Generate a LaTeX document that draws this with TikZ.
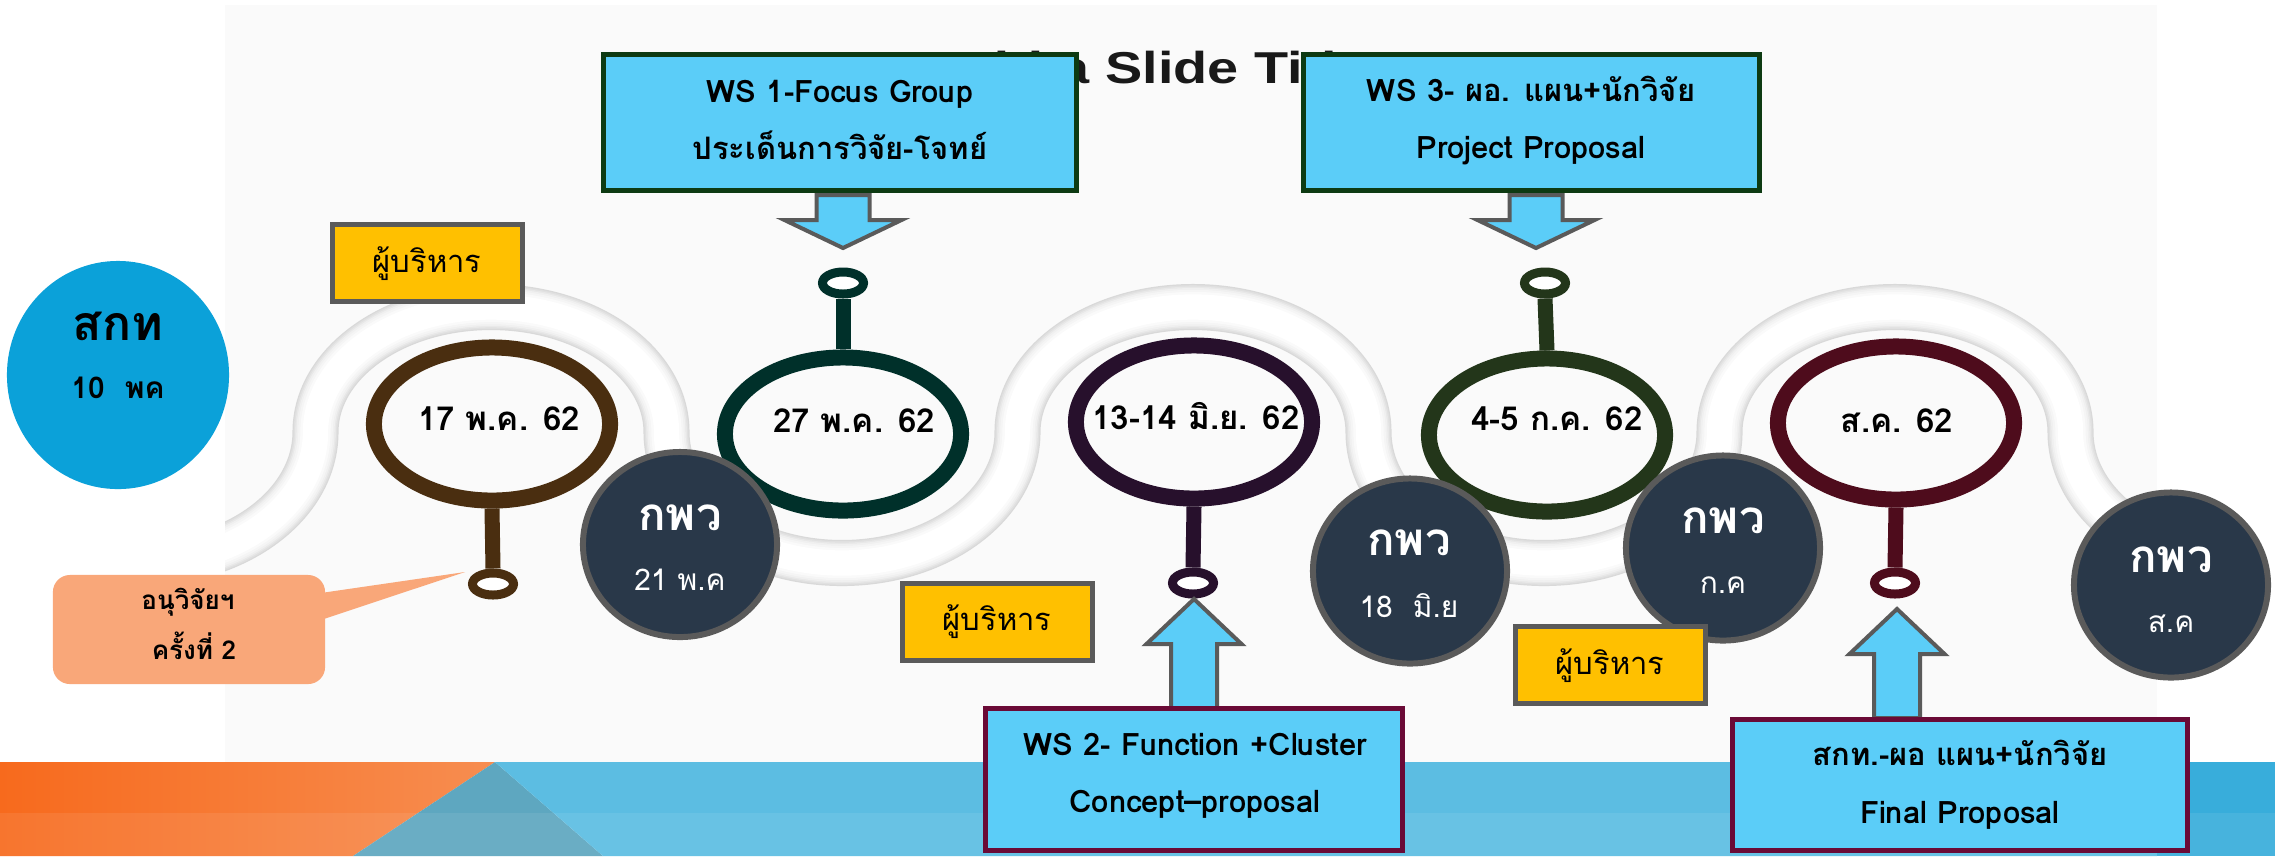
\documentclass[tikz,border=0pt]{standalone}
\usepackage{fontspec}
\usepackage{graphicx}
\setmainfont[Script=Thai]{Loma}
\newfontfamily\titlefont{Liberation Sans}
\usetikzlibrary{shapes.geometric}
\definecolor{boxblue}{HTML}{5BCDF8}
\definecolor{wsgreen}{HTML}{0D3A12}
\definecolor{wsmaroon}{HTML}{6A0A36}
\definecolor{yfill}{HTML}{FFC000}
\definecolor{gbord}{HTML}{5A5A5A}
\definecolor{efill}{HTML}{293849}
\definecolor{skyell}{HTML}{0BA1D9}
\definecolor{callc}{HTML}{F9A779}
\definecolor{slidebg}{HTML}{FAFAFA}
\definecolor{ringA}{HTML}{4A2E10}
\definecolor{ringB}{HTML}{00302A}
\definecolor{ringC}{HTML}{27102C}
\definecolor{ringD}{HTML}{23361A}
\definecolor{ringE}{HTML}{4E0C1C}
\definecolor{orA}{HTML}{F76A1D}
\definecolor{orB}{HTML}{F78D50}
\definecolor{tealtri}{HTML}{5EA7C0}
\definecolor{bandblue}{HTML}{5CBDE2}
\definecolor{banddark}{HTML}{38ADDB}
\newcommand\myDownArrow[1]{%
  \draw[blockarr] ([shift={(-26.5,0)}]#1) -- ([shift={(26.5,0)}]#1) -- ([shift={(26.5,25)}]#1) -- ([shift={(58.5,25)}]#1) -- ([shift={(0,53)}]#1) -- ([shift={(-58.5,25)}]#1) -- ([shift={(-26.5,25)}]#1) -- cycle;}
\newcommand\myUpArrow[1]{%
  \draw[blockarr] ([shift={(-23,0)}]#1) -- ([shift={(-23,-64)}]#1) -- ([shift={(-47.5,-64)}]#1) -- ([shift={(0,-109)}]#1) -- ([shift={(47.5,-64)}]#1) -- ([shift={(23,-64)}]#1) -- ([shift={(23,0)}]#1) -- cycle;}
\begin{document}
\begin{tikzpicture}[x=0.01cm, y=-0.01cm,
  wsbox/.style={draw=#1, line width=1.56pt, fill=boxblue, inner sep=0pt},
  ybox/.style={draw=gbord, line width=1.42pt, fill=yfill, inner sep=0pt, minimum width=1.9cm, minimum height=0.77cm},
  dkell/.style={ellipse, draw=gbord, line width=1.7pt, fill=efill, inner sep=0pt, minimum width=1.94cm, minimum height=1.85cm},
  ringnode/.style={ellipse, draw=#1, line width=4.55pt, inner sep=0pt, minimum width=2.36cm, minimum height=1.53cm},
  dotnode/.style={ellipse, draw=#1, line width=2.56pt, fill=white, inner sep=0pt, minimum width=0.41cm, minimum height=0.22cm},
  stemline/.style={draw=#1, line width=4.27pt},
  blockarr/.style={draw=gbord, line width=1.14pt, fill=boxblue, line join=miter},
  boxtxt/.style={font=\bfseries\fontsize{8.8}{10}\selectfont, anchor=base, inner sep=0pt},
  datetxt/.style={font=\bfseries\fontsize{9.4}{11}\selectfont, anchor=base, inner sep=0pt},
  bigtxt/.style={font=\bfseries\fontsize{13}{15}\selectfont, anchor=base, inner sep=0pt, text=white},
  smalltxt/.style={font=\fontsize{8.5}{10}\selectfont, anchor=base, inner sep=0pt, text=white},
  ytxt/.style={font=\fontsize{8.8}{10}\selectfont, anchor=base, inner sep=0pt},
  calltxt/.style={font=\bfseries\fontsize{7.4}{9}\selectfont, anchor=base, inner sep=0pt}
]
\useasboundingbox (0,0) rectangle (2275,856);
\fill[white] (0,0) rectangle (2275,856);
% slide area
\fill[slidebg] (225,5) rectangle (2157,762);
% partially hidden slide title
\node[anchor=base west, inner sep=0pt, text=black!90] (title) at (934,83)
  {\scalebox{1.25}[1]{\titlefont\bfseries\fontsize{12.7}{15}\selectfont Add a Slide Title}};
% bottom band
\shade[left color=orA, right color=orB] (0,762) -- (495,762) -- (353,856) -- (0,856) -- cycle;
\fill[tealtri] (495,762) -- (603,856) -- (353,856) -- cycle;
\fill[bandblue] (495,762) -- (2157,762) -- (2157,856) -- (603,856) -- cycle;
\fill[banddark] (2157,762) rectangle (2275,856);
\fill[white, opacity=0.08] (0,813) rectangle (2275,856);
% wavy tube
\begin{scope}
\clip (225,5) rectangle (2157,762);
\foreach \w/\c in {13.1pt/black!15, 12.4pt/black!12, 11.6pt/black!9, 10.8pt/black!6, 9.8pt/black!4, 8.6pt/black!2, 7.2pt/white}{
  \draw[line width=\w, color=\c] (-35.5,432)
    arc[start angle=180, end angle=0, x radius=175.5, y radius=131]
    arc[start angle=180, end angle=360, x radius=175.5, y radius=125]
    arc[start angle=180, end angle=0, x radius=175.5, y radius=131]
    arc[start angle=180, end angle=360, x radius=175.5, y radius=125]
    arc[start angle=180, end angle=0, x radius=175.5, y radius=131]
    arc[start angle=180, end angle=360, x radius=175.5, y radius=125]
    arc[start angle=180, end angle=0, x radius=175.5, y radius=131];
}
\end{scope}
% rings, dots and stems
\node[ringnode=ringA] (r1) at (492,424) {};
\node[ringnode=ringB] (r2) at (843,434) {};
\node[ringnode=ringC] (r3) at (1194,422) {};
\node[ringnode=ringD] (r4) at (1547,435) {};
\node[ringnode=ringE] (r5) at (1896,423) {};
\node[dotnode=ringA] (d1) at (493,584) {};
\node[dotnode=ringB] (d2) at (843,283) {};
\node[dotnode=ringC] (d3) at (1193,583) {};
\node[dotnode=ringD] (d4) at (1545,283) {};
\node[dotnode=ringE] (d5) at (1895,583) {};
\draw[stemline=ringA] (r1.south) -- (d1.north);
\draw[stemline=ringB] (r2.north) -- (d2.south);
\draw[stemline=ringC] (r3.south) -- (d3.north);
\draw[stemline=ringD] (r4.north) -- (d4.south);
\draw[stemline=ringE] (r5.south) -- (d5.north);
\node[datetxt] (t1) at (499,430) {17 พ.ค. 62};
\node[datetxt] (t2) at (854,432) {27 พ.ค. 62};
\node[datetxt] (t3) at (1196,429) {13-14 มิ.ย. 62};
\node[datetxt] (t4) at (1557,430) {4-5 ก.ค. 62};
\node[datetxt] (t5) at (1897,432) {ส.ค. 62};
% left blue ellipse
\node[ellipse, fill=skyell, inner sep=0pt, minimum width=2.22cm, minimum height=2.28cm] (skt) at (118,375) {};
\node[font=\bfseries\fontsize{13.7}{15}\selectfont, anchor=base, inner sep=0pt] (sktA) at (118,340) {สกท};
\node[font=\bfseries\fontsize{8.5}{10}\selectfont, anchor=base, inner sep=0pt] (sktB) at (118,398) {10~~พค};
% yellow boxes
\node[ybox] (y1) at (427.5,263) {};
\node[ytxt] (y1t) at (427,272) {ผู้บริหาร};
\node[ybox] (y2) at (997.5,622) {};
\node[ytxt] (y2t) at (997,630) {ผู้บริหาร};
% dark ellipses
\node[dkell] (e1) at (680,544.5) {};
\node[bigtxt] (e1a) at (680,530) {กพว};
\node[smalltxt] (e1b) at (680,590) {21 พ.ค};
\node[dkell] (e2) at (1410,571) {};
\node[bigtxt] (e2a) at (1409,555) {กพว};
\node[smalltxt] (e2b) at (1409,617) {18~~มิ.ย};
\node[dkell] (e3) at (1723,548) {};
\node[bigtxt] (e3a) at (1723,533) {กพว};
\node[smalltxt] (e3b) at (1723,593) {ก.ค};
\node[dkell] (e4) at (2171,585) {};
\node[bigtxt] (e4a) at (2171,572) {กพว};
\node[smalltxt] (e4b) at (2171,632) {ส.ค};
\node[ybox] (y3) at (1610.5,665) {};
\node[ytxt] (y3t) at (1610,674) {ผู้บริหาร};
% callout
\coordinate (tip1) at (465,572);
\node[fill=callc, rounded corners=0.17cm, inner sep=0pt, minimum width=2.72cm, minimum height=1.09cm] (cb) at (189,629.5) {};
\fill[callc] ([shift={(-5,-36.5)}]cb.east) -- (tip1) -- ([shift={(-5,-9.5)}]cb.east) -- cycle;
\node[calltxt] (cbt1) at (188,609) {อนุวิจัยฯ};
\node[calltxt] (cbt2) at (194,659) {ครั้งที่ 2};
% arrows
\coordinate (dA) at (843,195);
\coordinate (dB) at (1536,195);
\coordinate (uA) at (1194,708);
\coordinate (uB) at (1897,718);
\myDownArrow{dA}
\myDownArrow{dB}
\myUpArrow{uA}
\myUpArrow{uB}
% workshop boxes
\node[wsbox=wsgreen, minimum width=4.725cm, minimum height=1.355cm] (ws1) at (840,122.5) {};
\node[boxtxt] (ws1a) at (840,102) {WS 1-Focus Group};
\node[boxtxt] (ws1b) at (840,159) {ประเด็นการวิจัย-โจทย์};
\node[wsbox=wsgreen, minimum width=4.555cm, minimum height=1.355cm] (ws3) at (1531.5,122.5) {};
\node[boxtxt] (ws3a) at (1531,101) {WS 3- ผอ. แผน+นักวิจัย};
\node[boxtxt] (ws3b) at (1531,158) {Project Proposal};
\node[wsbox=wsmaroon, minimum width=4.165cm, minimum height=1.415cm] (ws2) at (1194,779.5) {};
\node[boxtxt] (ws2a) at (1195,755) {WS 2- Function +Cluster};
\node[boxtxt] (ws2b) at (1195,812) {Concept–proposal};
\node[wsbox=wsmaroon, minimum width=4.545cm, minimum height=1.305cm] (fin) at (1960,785) {};
\node[boxtxt] (fina) at (1960,765) {สกท.-ผอ แผน+นักวิจัย};
\node[boxtxt] (finb) at (1960,823) {Final Proposal};
\end{tikzpicture}
\end{document}
